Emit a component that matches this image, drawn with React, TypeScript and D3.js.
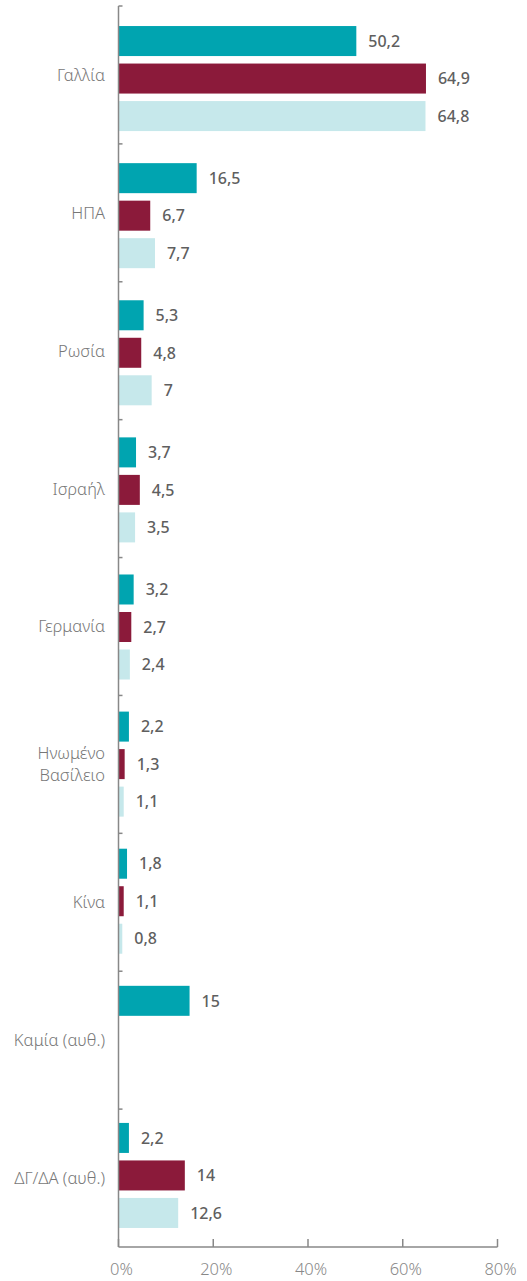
import React, { useRef, useEffect } from 'react';
import * as d3 from 'd3';

const width = 527;
const height = 1281;

const categories = [
  ['Γαλλία'],
  ['ΗΠΑ'],
  ['Ρωσία'],
  ['Ισραήλ'],
  ['Γερμανία'],
  ['Ηνωμένο', 'Βασίλειο'],
  ['Κίνα'],
  ['Καμία (αυθ.)'],
  ['ΔΓ/ΔΑ (αυθ.)'],
];

const seriesNames = ['s1', 's2', 's3'];
const seriesColors = ['#00a4b0', '#8b1a3a', '#c6e8eb'];

const s1 = [50.2, 16.5, 5.3, 3.7, 3.2, 2.2, 1.8, 15, 2.2];
const s2 = [64.9, 6.7, 4.8, 4.5, 2.7, 1.3, 1.1, null, 14];
const s3 = [64.8, 7.7, 7, 3.5, 2.4, 1.1, 0.8, null, 12.6];

const xTicks = [0, 20, 40, 60, 80];

export default function App() {
  const svgRef = useRef<SVGSVGElement>(null);

  useEffect(() => {
    const svg = d3.select(svgRef.current);
    svg.selectAll('*').remove();

    const keys = categories.map((c) => c.join(' '));
    const values = [s1, s2, s3];

    const x = d3.scaleLinear().domain([0, 80]).range([118.5, 497.5]);

    // category axis (ticks between categories)
    const yAxis = d3.scaleBand().domain(keys).range([6, 1247]);

    // bar groups
    const y0 = d3.scaleBand().domain(keys).range([10, 1244])
      .paddingInner(0.234).paddingOuter(0.117);
    const y1 = d3.scaleBand().domain(seriesNames).range([0, y0.bandwidth()])
      .paddingInner(0.2);

    const fmt = (v: number) => String(v).replace('.', ',');

    const g = svg.append('g');

    keys.forEach((k, i) => {
      seriesNames.forEach((s, j) => {
        const v = values[j][i];
        if (v == null) return;
        const top = y0(k)! + y1(s)!;
        g.append('rect')
          .attr('x', x(0))
          .attr('y', top)
          .attr('width', x(v) - x(0))
          .attr('height', y1.bandwidth())
          .attr('fill', seriesColors[j]);
        g.append('text')
          .attr('x', x(v) + 12)
          .attr('y', top + y1.bandwidth() / 2)
          .attr('dy', '0.36em')
          .attr('font-family', 'Noto Sans, sans-serif')
          .attr('font-size', 16)
          .attr('font-weight', 500)
          .attr('fill', '#5f5f5f')
          .text(fmt(v));
      });
    });

    // y axis line + small ticks
    svg.append('line')
      .attr('x1', x(0)).attr('x2', x(0))
      .attr('y1', 6).attr('y2', 1247)
      .attr('stroke', '#888').attr('stroke-width', 1.5);
    keys.forEach((k) => {
      svg.append('line')
        .attr('x1', x(0)).attr('x2', x(0) + 4)
        .attr('y1', yAxis(k)!).attr('y2', yAxis(k)!)
        .attr('stroke', '#888').attr('stroke-width', 1.5);
    });

    // category labels
    categories.forEach((lines, i) => {
      const cy = yAxis(keys[i])! + yAxis.bandwidth() / 2;
      const t = svg.append('text')
        .attr('x', 105)
        .attr('text-anchor', 'end')
        .attr('font-family', 'Noto Sans, sans-serif')
        .attr('font-size', 16.5)
        .attr('font-weight', 300)
        .attr('fill', '#777');
      lines.forEach((line, li) => {
        t.append('tspan')
          .attr('x', 105)
          .attr('y', cy + (li - (lines.length - 1) / 2) * 22)
          .attr('dy', '0.36em')
          .text(line);
      });
    });

    // x axis
    svg.append('line')
      .attr('x1', x(0)).attr('x2', x(80))
      .attr('y1', 1247).attr('y2', 1247)
      .attr('stroke', '#888').attr('stroke-width', 1.5);
    xTicks.forEach((t) => {
      svg.append('line')
        .attr('x1', x(t)).attr('x2', x(t))
        .attr('y1', 1247).attr('y2', 1239)
        .attr('stroke', '#888').attr('stroke-width', 1.5);
      svg.append('text')
        .attr('x', x(t) + 3)
        .attr('y', 1275)
        .attr('text-anchor', 'middle')
        .attr('font-family', 'Noto Sans, sans-serif')
        .attr('font-size', 16.5)
        .attr('font-weight', 300)
        .attr('fill', '#888')
        .text(t + '%');
    });
  }, []);

  return (
    <svg
      ref={svgRef}
      width={width}
      height={height}
      style={{ position: 'absolute', left: 0, top: 0, background: '#fff' }}
    ></svg>
  );
}
